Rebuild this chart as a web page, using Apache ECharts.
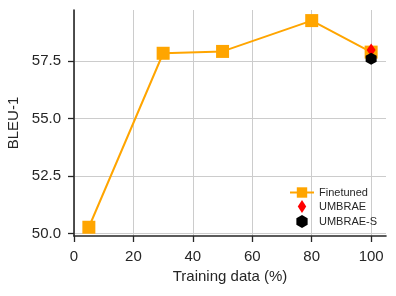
<!DOCTYPE html>
<html>
<head>
<meta charset="utf-8">
<script src="https://cdn.jsdelivr.net/npm/echarts@6/dist/echarts.min.js"></script>
<style>html,body{margin:0;padding:0;background:#fff;}#c{width:396px;height:296px;}</style>
</head>
<body>
<div id="c"></div>
<script>
const xTicks = [0, 20, 40, 60, 80, 100];
const yTicks = [50, 52.5, 55, 57.5];
const finetunedX = [5, 30, 50, 80, 100];
const finetunedY = [50.28, 57.84, 57.92, 59.26, 57.89];
const umbraeX = [100];
const umbraeY = [57.98];
const umbraeSX = [100];
const umbraeSY = [57.6];

const zip = (xs, ys) => xs.map((x, i) => [x, ys[i]]);
const hexagon = 'path://M0,-1 L0.866,-0.5 L0.866,0.5 L0,1 L-0.866,0.5 L-0.866,-0.5 Z';
const diamond = 'path://M0,-1 L0.65,0 L0,1 L-0.65,0 Z';
const txt = '#262626';
const font = 'Liberation Sans, Arial, sans-serif';

const chart = echarts.init(document.getElementById('c'), null, {renderer: 'canvas'});
chart.setOption({
  animation: false,
  grid: {left: 74, right: 10, top: 10, bottom: 60, containLabel: false, outerBoundsMode: 'none'},
  xAxis: {
    type: 'value', min: 0, max: 105,
    name: 'Training data (%)', nameLocation: 'middle', nameGap: 30,
    nameTextStyle: {fontSize: 15, color: txt, fontFamily: font},
    axisLine: {show: true, lineStyle: {color: txt, width: 1.6}},
    axisTick: {show: true, length: 6, lineStyle: {color: txt, width: 1.3}, customValues: xTicks},
    axisLabel: {fontSize: 15, color: txt, fontFamily: font, margin: 13, customValues: xTicks},
    splitLine: {show: true, lineStyle: {color: '#cccccc', width: 1}}
  },
  yAxis: {
    type: 'value', min: 49.9, max: 59.72,
    name: 'BLEU-1', nameLocation: 'middle', nameGap: 50,
    nameTextStyle: {fontSize: 15, color: txt, fontFamily: font},
    axisLine: {show: true, lineStyle: {color: txt, width: 1.6}},
    axisTick: {show: true, length: 6, lineStyle: {color: txt, width: 1.3}, customValues: yTicks},
    axisLabel: {fontSize: 15, color: txt, fontFamily: font, margin: 13, customValues: yTicks,
      formatter: v => Number(v).toFixed(1)},
    splitLine: {show: true, lineStyle: {color: '#cccccc', width: 1}}
  },
  legend: {
    orient: 'vertical', left: 284, top: 182,
    itemWidth: 24, itemHeight: 13, itemGap: 2,
    symbolKeepAspect: true,
    textStyle: {fontSize: 11, color: txt, fontFamily: font},
    data: [
      {name: 'Finetuned'},
      {name: 'UMBRAE', icon: diamond},
      {name: 'UMBRAE-S', icon: hexagon}
    ]
  },
  series: [
    {
      name: 'Finetuned', type: 'line', data: zip(finetunedX, finetunedY),
      symbol: 'rect', symbolSize: 13, showAllSymbol: true,
      itemStyle: {color: '#FFA500', opacity: 1}, lineStyle: {color: '#FFA500', width: 2}, z: 2
    },
    {
      name: 'UMBRAE', type: 'scatter', data: zip(umbraeX, umbraeY),
      symbol: diamond, symbolSize: [9, 13],
      itemStyle: {color: '#FF0000', opacity: 1}, z: 3
    },
    {
      name: 'UMBRAE-S', type: 'scatter', data: zip(umbraeSX, umbraeSY),
      symbol: hexagon, symbolSize: [11, 12],
      itemStyle: {color: '#000000', opacity: 1}, z: 4
    }
  ]
});
</script>
</body>
</html>
